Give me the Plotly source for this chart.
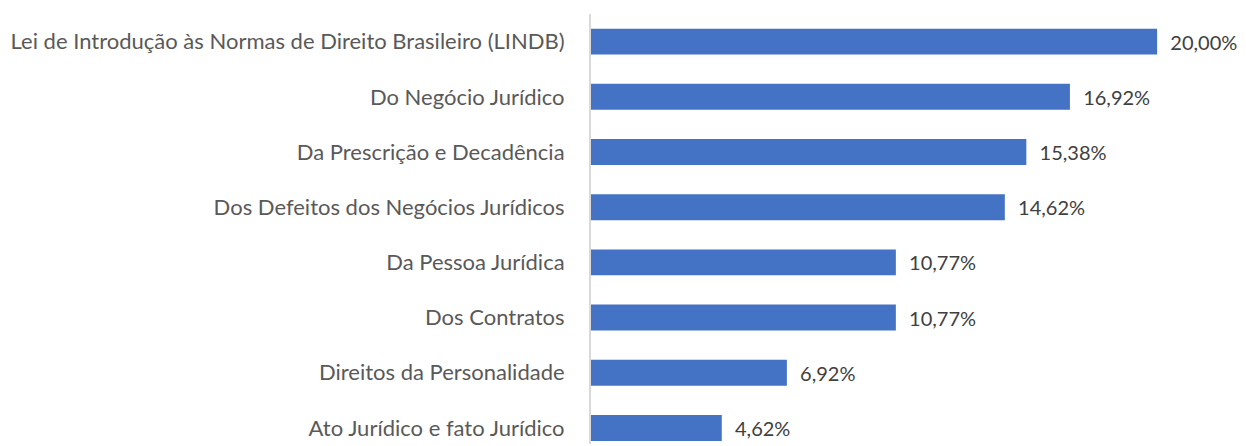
import plotly.graph_objects as go

# Categorias (de baixo para cima) e percentuais
categorias = [
    "Ato Jurídico e fato Jurídico",
    "Direitos da Personalidade",
    "Dos Contratos",
    "Da Pessoa Jurídica",
    "Dos Defeitos dos Negócios Jurídicos",
    "Da Prescrição e Decadência",
    "Do Negócio Jurídico",
    "Lei de Introdução às Normas de Direito Brasileiro (LINDB)",
]
percentuais = [4.62, 6.92, 10.77, 10.77, 14.62, 15.38, 16.92, 20.00]

fig = go.Figure()

fig.add_trace(
    go.Bar(
        x=percentuais,
        y=categorias,
        orientation="h",
        width=0.47,
        marker=dict(color="#4472C4", line=dict(width=0)),
        texttemplate="  %{x:.2f}%",
        textposition="outside",
        constraintext="none",
        textfont=dict(family="Lato", size=20, color="#404040"),
        cliponaxis=False,
        hoverinfo="skip",
    )
)

# a página tem margem de 8px no body, por isso a figura é menor que a janela
fig.update_layout(
    width=1236,
    height=436,
    margin=dict(l=583, r=0, t=6, b=0, autoexpand=False),
    plot_bgcolor="white",
    paper_bgcolor="white",
    separators=",.",
    showlegend=False,
    font=dict(family="Lato", size=22, color="#595959"),
)

fig.update_xaxes(
    range=[0, 23.07],
    visible=False,
    showgrid=False,
    zeroline=False,
    automargin=False,
)
fig.update_yaxes(
    type="category",
    range=[-0.29, 7.5],
    showline=True,
    linecolor="#d9d9d9",
    linewidth=2,
    ticks="",
    ticklabelstandoff=20,
    showgrid=False,
    automargin=False,
    tickfont=dict(family="Lato", size=22, color="#595959"),
)

fig.write_html("out.html")
